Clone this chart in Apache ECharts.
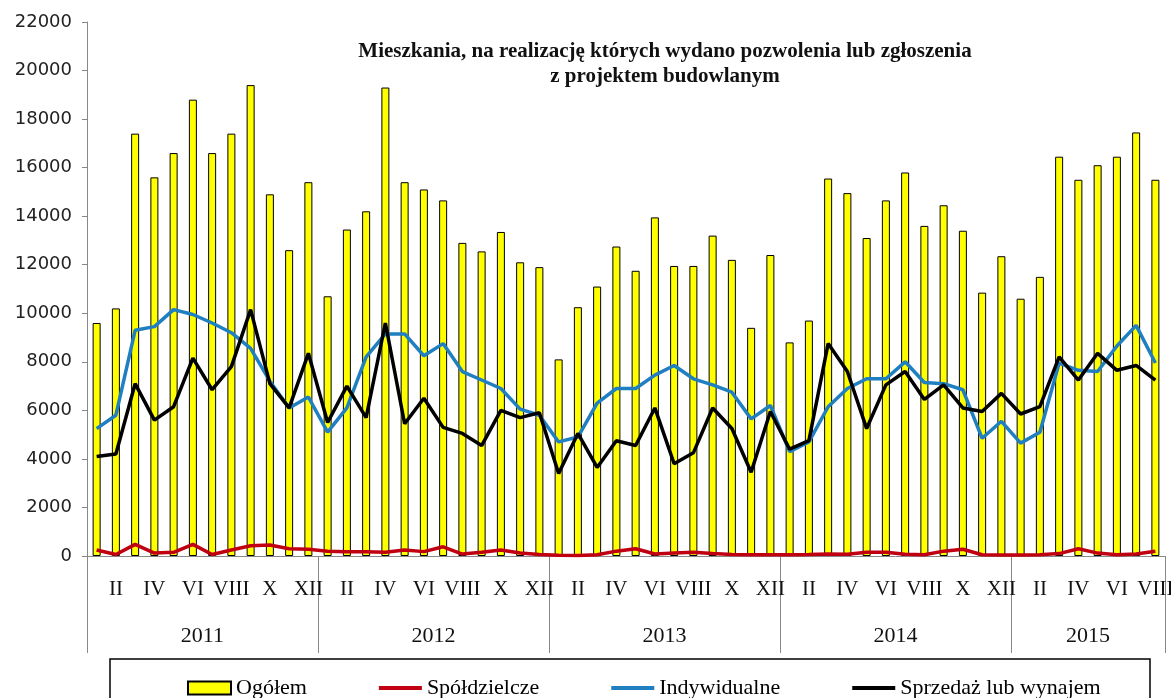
<!DOCTYPE html>
<html>
<head>
<meta charset="utf-8">
<title>Mieszkania</title>
<script src="https://cdn.jsdelivr.net/npm/echarts@6/dist/echarts.min.js"></script>
</head>
<body style="margin:0;background:#fff;">
<div id="main" style="width:1171px;height:698px;"></div>
<script>
// dane
var years = ['2011', '2012', '2013', '2014', '2015'];
var monthsPerYear = [12, 12, 12, 12, 8];
var monthNames = ['I', 'II', 'III', 'IV', 'V', 'VI', 'VII', 'VIII', 'IX', 'X', 'XI', 'XII'];

var ogolem = [
  9600, 10200, 17400, 15600, 16600, 18800, 16600, 17400, 19400, 14900, 12600, 15400,
  10700, 13450, 14200, 19300, 15400, 15100, 14650, 12900, 12550, 13350, 12100, 11900,
  8100, 10250, 11100, 12750, 11750, 13950, 11950, 11950, 13200, 12200, 9400, 12400,
  8800, 9700, 15550, 14950, 13100, 14650, 15800, 13600, 14450, 13400, 10850, 12350,
  10600, 11500, 16450, 15500, 16100, 16450, 17450, 15500
];
var spoldzielcze = [
  250, 60, 480, 120, 150, 480, 60, 250, 420, 450, 300, 280,
  200, 180, 180, 150, 250, 180, 380, 80, 150, 250, 120, 60,
  30, 20, 50, 200, 300, 80, 120, 150, 100, 60, 50, 50,
  50, 60, 80, 70, 150, 150, 70, 50, 200, 280, 50, 40,
  40, 50, 100, 300, 120, 50, 80, 200
];
var indywidualne = [
  5250, 5800, 9300, 9450, 10150, 9950, 9600, 9200, 8550, 7200, 6100, 6550,
  5100, 6100, 8200, 9150, 9150, 8250, 8750, 7600, 7250, 6900, 6050, 5800,
  4700, 4900, 6300, 6900, 6900, 7450, 7850, 7300, 7050, 6750, 5650, 6200,
  4300, 4700, 6150, 6900, 7300, 7300, 8000, 7150, 7100, 6850, 4850, 5550,
  4650, 5100, 7950, 7650, 7600, 8650, 9500, 7950
];
var sprzedaz = [
  4100, 4200, 7100, 5600, 6150, 8150, 6850, 7800, 10150, 7100, 6100, 8350,
  5500, 7000, 5700, 9600, 5450, 6500, 5300, 5050, 4550, 6000, 5700, 5900,
  3400, 5050, 3650, 4750, 4550, 6100, 3800, 4250, 6100, 5250, 3450, 5950,
  4400, 4750, 8750, 7600, 5250, 7050, 7600, 6450, 7050, 6100, 5950, 6700,
  5850, 6150, 8200, 7250, 8350, 7650, 7850, 7250
];

// kategorie osi
var months = [], yearKeys = [], yearLabels = [], yearStarts = [];
for (var y = 0; y < years.length; y++) {
  yearStarts.push(months.length);
  for (var m = 0; m < monthsPerYear[y]; m++) {
    yearKeys.push('k' + months.length);
    yearLabels.push(m === Math.floor((monthsPerYear[y] - 1) / 2) ? years[y] : '');
    months.push(monthNames[m]);
  }
}

var serif = 'Liberation Serif';
var myChart = echarts.init(document.getElementById('main'));

var option = {
  animation: false,
  backgroundColor: '#fff',
  title: {
    text: 'Mieszkania, na realizację których wydano pozwolenia lub zgłoszenia\nz projektem budowlanym',
    left: 660,
    top: 34,
    textAlign: 'center',
    textStyle: {
      fontFamily: serif,
      fontSize: 21,
      fontWeight: 'bold',
      color: '#111',
      lineHeight: 25
    }
  },
  grid: { left: 87, right: 6, top: 22, bottom: 142, outerBoundsMode: 'none' },
  legend: {
    left: 182,
    top: 672,
    itemGap: 72,
    itemWidth: 43,
    itemHeight: 13,
    textStyle: { fontFamily: serif, fontSize: 22, color: '#000' },
    data: [
      { name: 'Ogółem', icon: 'rect' },
      { name: 'Spółdzielcze', icon: 'path://M0,0H44V4H0Z' },
      { name: 'Indywidualne', icon: 'path://M0,0H44V4H0Z' },
      { name: 'Sprzedaż lub wynajem', icon: 'path://M0,0H44V4H0Z' }
    ]
  },
  graphic: [{
    type: 'rect',
    shape: { x: 110, y: 659, width: 1040, height: 50 },
    style: { fill: 'none', stroke: '#000', lineWidth: 1.5 }
  }],
  xAxis: [{
    type: 'category',
    data: months,
    axisLine: { lineStyle: { color: '#888' } },
    axisTick: { show: false },
    axisLabel: {
      interval: function (i) { return i % 2 === 1; },
      margin: 23,
      fontFamily: serif,
      fontSize: 21,
      color: '#111'
    }
  }, {
    type: 'category',
    position: 'bottom',
    data: yearKeys,
    axisLine: { show: false },
    axisTick: {
      show: true,
      interval: function (i) { return yearStarts.indexOf(i) >= 0; },
      length: 97,
      lineStyle: { color: '#888' }
    },
    axisLabel: {
      interval: 0,
      margin: 69,
      padding: [0, 0, 0, 19],
      fontFamily: serif,
      fontSize: 22,
      color: '#111',
      formatter: function (v, i) { return yearLabels[i]; }
    }
  }],
  yAxis: {
    type: 'value',
    min: 0,
    max: 22000,
    interval: 2000,
    splitLine: { show: false },
    axisLine: { show: true, lineStyle: { color: '#888' } },
    axisTick: { show: true, length: 5, lineStyle: { color: '#888' } },
    axisLabel: {
      fontFamily: 'DejaVu Sans',
      fontSize: 18,
      color: '#222',
      margin: 15,
      formatter: function (v) { return String(v); }
    }
  },
  series: [{
    name: 'Ogółem',
    type: 'bar',
    data: ogolem,
    barWidth: 8,
    itemStyle: { color: '#ffff00', borderColor: '#000', borderWidth: 1 }
  }, {
    name: 'Spółdzielcze',
    type: 'line',
    data: spoldzielcze,
    symbol: 'none',
    color: '#c00010',
    lineStyle: { width: 3.5, color: '#c00010' }
  }, {
    name: 'Indywidualne',
    type: 'line',
    data: indywidualne,
    symbol: 'none',
    color: '#1f7fc0',
    lineStyle: { width: 3.5, color: '#1f7fc0' }
  }, {
    name: 'Sprzedaż lub wynajem',
    type: 'line',
    data: sprzedaz,
    symbol: 'none',
    color: '#000',
    lineStyle: { width: 3.5, color: '#000' }
  }]
};

myChart.setOption(option);
</script>
</body>
</html>
